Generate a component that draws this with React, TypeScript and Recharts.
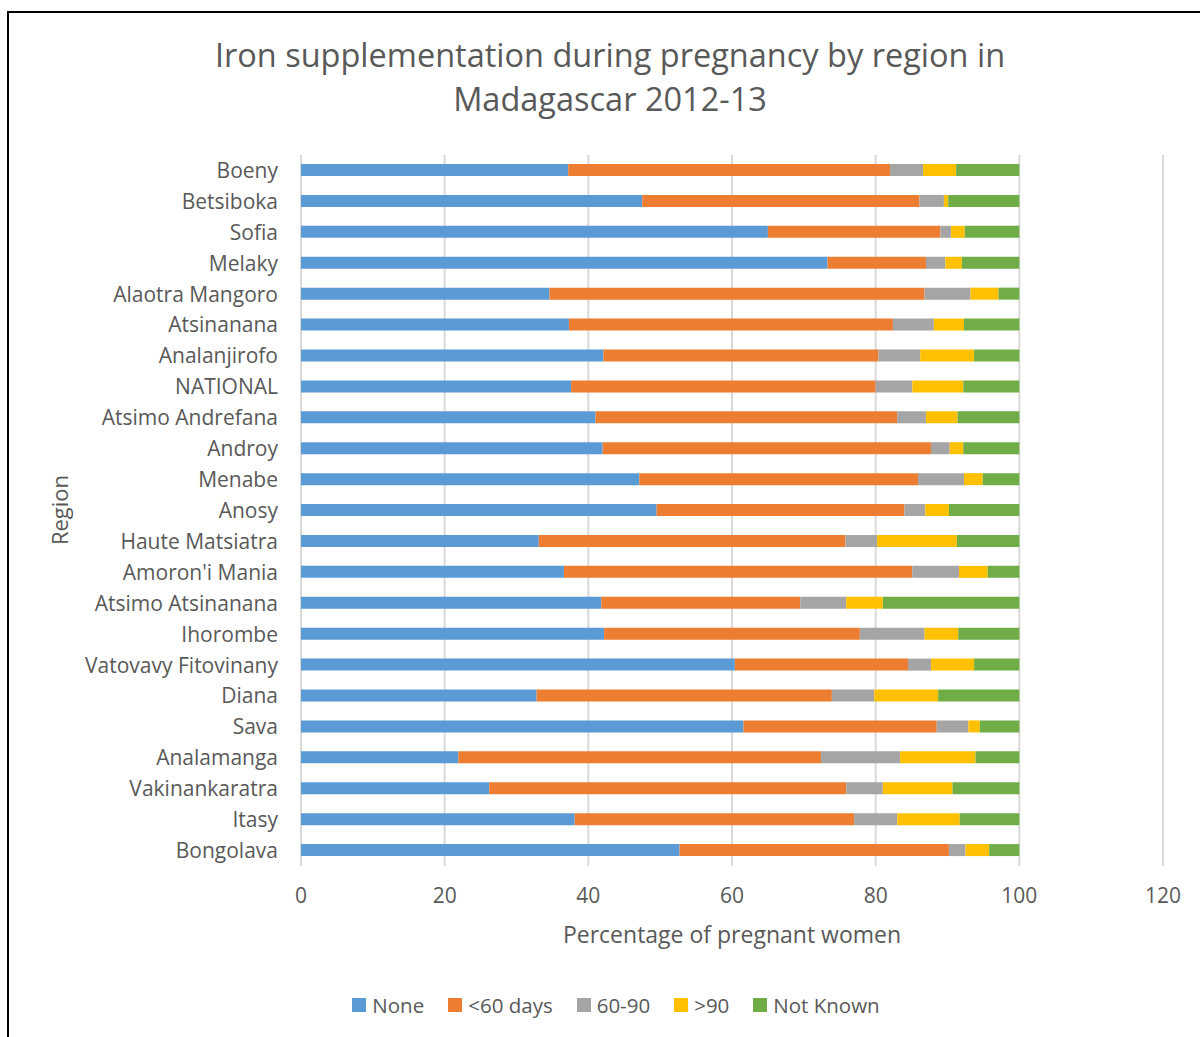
import React from "react"
import { BarChart, Bar, XAxis, YAxis, CartesianGrid, Legend } from "recharts"

// regions, top to bottom as in the reference
const regions = [
  "Boeny", "Betsiboka", "Sofia", "Melaky", "Alaotra Mangoro", "Atsinanana",
  "Analanjirofo", "NATIONAL", "Atsimo Andrefana", "Androy", "Menabe", "Anosy",
  "Haute Matsiatra", "Amoron'i Mania", "Atsimo Atsinanana", "Ihorombe",
  "Vatovavy Fitovinany", "Diana", "Sava", "Analamanga", "Vakinankaratra",
  "Itasy", "Bongolava",
]

// percentage of pregnant women per duration of supplementation
const none = [37.2, 47.5, 65.0, 73.3, 34.6, 37.3, 42.1, 37.6, 41.0, 42.0, 47.1, 49.5, 33.1, 36.6, 41.8, 42.2, 60.4, 32.8, 61.6, 21.9, 26.2, 38.1, 52.7]
const under60 = [44.8, 38.6, 24.0, 13.7, 52.2, 45.1, 38.3, 42.4, 42.0, 45.7, 38.8, 34.5, 42.7, 48.5, 27.7, 35.6, 24.1, 41.1, 26.9, 50.5, 49.7, 38.9, 37.5]
const d60to90 = [4.6, 3.4, 1.5, 2.7, 6.4, 5.7, 5.8, 5.1, 4.0, 2.6, 6.4, 2.9, 4.4, 6.5, 6.4, 9.0, 3.2, 5.9, 4.4, 11.0, 5.1, 6.0, 2.3]
const over90 = [4.6, 0.6, 1.9, 2.3, 3.9, 4.2, 7.5, 7.1, 4.4, 1.9, 2.6, 3.3, 11.1, 4.0, 5.1, 4.7, 6.0, 8.9, 1.6, 10.5, 9.7, 8.7, 3.3]
const notKnown = [8.8, 9.9, 7.6, 8.0, 2.9, 7.7, 6.3, 7.8, 8.6, 7.8, 5.1, 9.8, 8.7, 4.4, 19.0, 8.5, 6.3, 11.3, 5.5, 6.1, 9.3, 8.3, 4.2]

const xTicks = [0, 20, 40, 60, 80, 100, 120]

const data = regions.map((region, i) => ({
  region,
  none: none[i],
  under60: under60[i],
  d60to90: d60to90[i],
  over90: over90[i],
  notKnown: notKnown[i],
}))

const series = [
  { key: "none", name: "None", color: "#5B9BD5" },
  { key: "under60", name: "<60 days", color: "#ED7D31" },
  { key: "d60to90", name: "60-90", color: "#A5A5A5" },
  { key: "over90", name: ">90", color: "#FFC000" },
  { key: "notKnown", name: "Not Known", color: "#70AD47" },
]

const FONT = "'Open Sans', sans-serif"
const TEXT = "#595959"

function LegendContent() {
  // keep series order (recharts sorts legend items by name otherwise)
  return (
    <div style={{ display: "flex", justifyContent: "center", alignItems: "center", fontSize: 20.5, fontFamily: FONT, color: TEXT, paddingLeft: 69 }}>
      {series.map((s, i) => (
        <div key={s.key} style={{ display: "flex", alignItems: "center", marginLeft: i === 0 ? 0 : 24 }}>
          <span style={{ display: "inline-block", width: 14, height: 14, background: s.color, marginRight: 6 }} />
          <span>{s.name}</span>
        </div>
      ))}
    </div>
  )
}

export default function App() {
  return (
    <div style={{ position: "absolute", left: 0, top: 0, width: 1200, height: 1037, overflow: "hidden", background: "#fff", fontFamily: FONT }}>
      <div style={{ position: "absolute", left: 7, top: 11, width: 1300, height: 1100, borderLeft: "2px solid #000", borderTop: "2px solid #000" }} />
      <div style={{ position: "absolute", left: 20, top: 33, width: 1180, textAlign: "center", fontSize: 32.5, lineHeight: "44px", color: TEXT }}>
        Iron supplementation during pregnancy by region in
        <br />
        Madagascar 2012-13
      </div>
      <div style={{ position: "absolute", left: 59, top: 510, transform: "translate(-50%, -50%) rotate(-90deg)", fontSize: 22, color: TEXT, whiteSpace: "nowrap" }}>
        Region
      </div>
      <div style={{ position: "absolute", left: 0, top: 0 }}>
        <BarChart
          width={1200}
          height={1037}
          data={data}
          layout="vertical"
          barSize={12}
          margin={{ top: 155, right: 37, bottom: 63, left: 0 }}
        >
          <CartesianGrid horizontal={false} stroke="#d9d9d9" strokeWidth={2} />
          <XAxis
            type="number"
            domain={[0, 120]}
            ticks={xTicks}
            axisLine={false}
            tickLine={false}
            tickSize={0}
            tickMargin={22}
            height={80}
            tick={{ fill: TEXT, fontSize: 21, fontFamily: FONT }}
            label={{ value: "Percentage of pregnant women", position: "insideBottom", offset: 3, fill: TEXT, fontSize: 23, fontFamily: FONT }}
          />
          <YAxis
            type="category"
            dataKey="region"
            width={301}
            axisLine={false}
            tickLine={false}
            tickSize={0}
            tickMargin={23}
            interval={0}
            tick={{ fill: TEXT, fontSize: 21, fontFamily: FONT }}
          />
          <Legend
            verticalAlign="bottom"
            align="center"
            content={<LegendContent />}
            wrapperStyle={{ bottom: 18 }}
          />
          {series.map((s) => (
            <Bar key={s.key} dataKey={s.key} name={s.name} stackId="a" fill={s.color} isAnimationActive={false} />
          ))}
        </BarChart>
      </div>
    </div>
  )
}
